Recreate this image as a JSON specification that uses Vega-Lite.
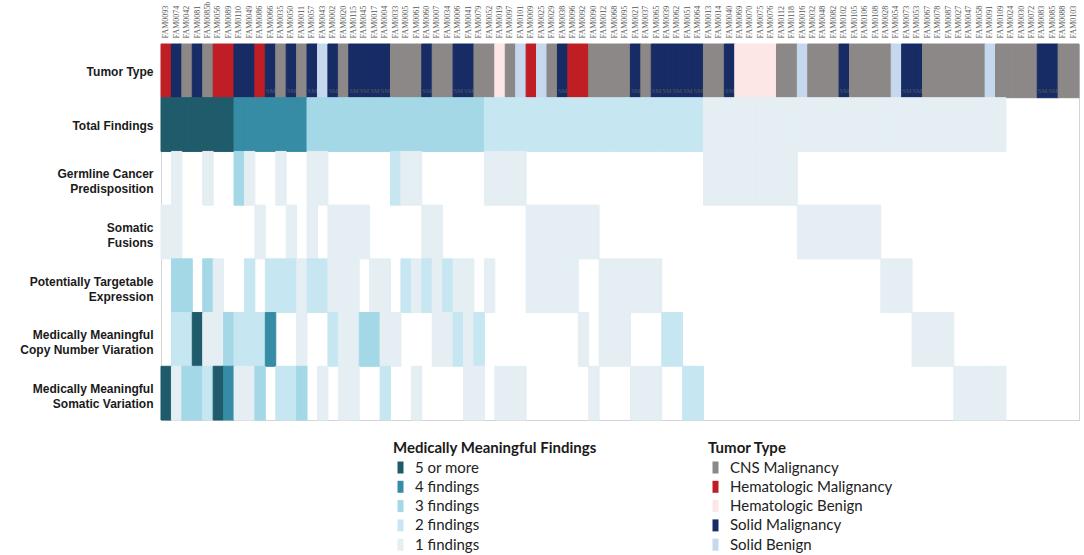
{
"$schema": "https://vega.github.io/schema/vega-lite/v6.json",
"width": 918, "height": 376,
"autosize": {"type": "none"},
"padding": {"left": 161, "top": 44, "right": 5, "bottom": 135},
"background": "white",
"config": {
  "view": {"stroke": "#d4d4d4", "strokeWidth": 1},
  "axis": {"domain": false, "ticks": false, "grid": false, "title": null},
  "legend": {"padding": 0, "titleFont": "Lato", "titleFontSize": 15, "titleFontWeight": "bold", "titleColor": "#1a1a1a", "titlePadding": 4, "titleLimit": 500, "labelLimit": 400, "labelFont": "Lato", "labelFontSize": 15, "labelColor": "#222", "labelOffset": 7, "rowPadding": 3.3, "symbolType": "M-0.5,-1L0.5,-1L0.5,1L-0.5,1Z", "symbolSize": 144, "symbolStrokeWidth": 0}
},
"datasets": {
"tumor": [
{"p":"FAM0093","r":"TT","t":"Hematologic Malignancy","s":0},
{"p":"FAM0074","r":"TT","t":"Solid Malignancy","s":0},
{"p":"FAM0042","r":"TT","t":"CNS Malignancy","s":0},
{"p":"FAM0081","r":"TT","t":"Solid Malignancy","s":0},
{"p":"FAM0085b","r":"TT","t":"CNS Malignancy","s":0},
{"p":"FAM0056","r":"TT","t":"Hematologic Malignancy","s":0},
{"p":"FAM0089","r":"TT","t":"Hematologic Malignancy","s":0},
{"p":"FAM0110","r":"TT","t":"Solid Malignancy","s":0},
{"p":"FAM0049","r":"TT","t":"Solid Malignancy","s":0},
{"p":"FAM0086","r":"TT","t":"Hematologic Malignancy","s":0},
{"p":"FAM0066","r":"TT","t":"Solid Malignancy","s":1},
{"p":"FAM0035","r":"TT","t":"CNS Malignancy","s":0},
{"p":"FAM0050","r":"TT","t":"Solid Malignancy","s":1},
{"p":"FAM0011","r":"TT","t":"CNS Malignancy","s":0},
{"p":"FAM0057","r":"TT","t":"Solid Malignancy","s":1},
{"p":"FAM0043","r":"TT","t":"Solid Benign","s":0},
{"p":"FAM0002","r":"TT","t":"Solid Malignancy","s":1},
{"p":"FAM0020","r":"TT","t":"CNS Malignancy","s":0},
{"p":"FAM0115","r":"TT","t":"Solid Malignancy","s":1},
{"p":"FAM0045","r":"TT","t":"Solid Malignancy","s":1},
{"p":"FAM0017","r":"TT","t":"Solid Malignancy","s":1},
{"p":"FAM0004","r":"TT","t":"Solid Malignancy","s":1},
{"p":"FAM0033","r":"TT","t":"CNS Malignancy","s":0},
{"p":"FAM0005","r":"TT","t":"CNS Malignancy","s":0},
{"p":"FAM0061","r":"TT","t":"CNS Malignancy","s":0},
{"p":"FAM0060","r":"TT","t":"Solid Malignancy","s":1},
{"p":"FAM0007","r":"TT","t":"CNS Malignancy","s":0},
{"p":"FAM0034","r":"TT","t":"CNS Malignancy","s":0},
{"p":"FAM0006","r":"TT","t":"Solid Malignancy","s":1},
{"p":"FAM0041","r":"TT","t":"Solid Malignancy","s":1},
{"p":"FAM0079","r":"TT","t":"CNS Malignancy","s":0},
{"p":"FAM0052","r":"TT","t":"CNS Malignancy","s":0},
{"p":"FAM0019","r":"TT","t":"Hematologic Benign","s":0},
{"p":"FAM0097","r":"TT","t":"CNS Malignancy","s":0},
{"p":"FAM0101","r":"TT","t":"Solid Benign","s":0},
{"p":"FAM0009","r":"TT","t":"Hematologic Malignancy","s":0},
{"p":"FAM0025","r":"TT","t":"Solid Benign","s":0},
{"p":"FAM0029","r":"TT","t":"CNS Malignancy","s":0},
{"p":"FAM0038","r":"TT","t":"Solid Malignancy","s":1},
{"p":"FAM0096","r":"TT","t":"Hematologic Malignancy","s":0},
{"p":"FAM0092","r":"TT","t":"Hematologic Malignancy","s":0},
{"p":"FAM0090","r":"TT","t":"CNS Malignancy","s":0},
{"p":"FAM0012","r":"TT","t":"CNS Malignancy","s":0},
{"p":"FAM0068","r":"TT","t":"CNS Malignancy","s":0},
{"p":"FAM0095","r":"TT","t":"CNS Malignancy","s":0},
{"p":"FAM0021","r":"TT","t":"Solid Malignancy","s":1},
{"p":"FAM0037","r":"TT","t":"CNS Malignancy","s":0},
{"p":"FAM0065","r":"TT","t":"Solid Malignancy","s":1},
{"p":"FAM0039","r":"TT","t":"Solid Malignancy","s":1},
{"p":"FAM0062","r":"TT","t":"Solid Malignancy","s":1},
{"p":"FAM0051","r":"TT","t":"Solid Malignancy","s":1},
{"p":"FAM0064","r":"TT","t":"Solid Malignancy","s":1},
{"p":"FAM0013","r":"TT","t":"CNS Malignancy","s":0},
{"p":"FAM0014","r":"TT","t":"CNS Malignancy","s":0},
{"p":"FAM0040","r":"TT","t":"Solid Malignancy","s":1},
{"p":"FAM0069","r":"TT","t":"Hematologic Benign","s":0},
{"p":"FAM0070","r":"TT","t":"Hematologic Benign","s":0},
{"p":"FAM0075","r":"TT","t":"Hematologic Benign","s":0},
{"p":"FAM0076","r":"TT","t":"Hematologic Benign","s":0},
{"p":"FAM0112","r":"TT","t":"CNS Malignancy","s":0},
{"p":"FAM0118","r":"TT","t":"CNS Malignancy","s":0},
{"p":"FAM0016","r":"TT","t":"Solid Benign","s":0},
{"p":"FAM0032","r":"TT","t":"CNS Malignancy","s":0},
{"p":"FAM0048","r":"TT","t":"CNS Malignancy","s":0},
{"p":"FAM0082","r":"TT","t":"CNS Malignancy","s":0},
{"p":"FAM0102","r":"TT","t":"Solid Malignancy","s":1},
{"p":"FAM0105","r":"TT","t":"CNS Malignancy","s":0},
{"p":"FAM0106","r":"TT","t":"CNS Malignancy","s":0},
{"p":"FAM0108","r":"TT","t":"CNS Malignancy","s":0},
{"p":"FAM0028","r":"TT","t":"CNS Malignancy","s":0},
{"p":"FAM0054","r":"TT","t":"Solid Benign","s":0},
{"p":"FAM0073","r":"TT","t":"Solid Malignancy","s":1},
{"p":"FAM0053","r":"TT","t":"Solid Malignancy","s":1},
{"p":"FAM0067","r":"TT","t":"CNS Malignancy","s":0},
{"p":"FAM0078","r":"TT","t":"CNS Malignancy","s":0},
{"p":"FAM0087","r":"TT","t":"CNS Malignancy","s":0},
{"p":"FAM0027","r":"TT","t":"CNS Malignancy","s":0},
{"p":"FAM0047","r":"TT","t":"CNS Malignancy","s":0},
{"p":"FAM0058","r":"TT","t":"CNS Malignancy","s":0},
{"p":"FAM0091","r":"TT","t":"Solid Benign","s":0},
{"p":"FAM0109","r":"TT","t":"CNS Malignancy","s":0},
{"p":"FAM0024","r":"TT","t":"CNS Malignancy","s":0},
{"p":"FAM0030","r":"TT","t":"CNS Malignancy","s":0},
{"p":"FAM0072","r":"TT","t":"CNS Malignancy","s":0},
{"p":"FAM0083","r":"TT","t":"Solid Malignancy","s":1},
{"p":"FAM0085","r":"TT","t":"Solid Malignancy","s":1},
{"p":"FAM0088","r":"TT","t":"CNS Malignancy","s":0},
{"p":"FAM0103","r":"TT","t":"CNS Malignancy","s":0}
],
"find": [
{"p":"FAM0093","r":"T","n":5},{"p":"FAM0074","r":"T","n":5},{"p":"FAM0042","r":"T","n":5},{"p":"FAM0081","r":"T","n":5},{"p":"FAM0085b","r":"T","n":5},{"p":"FAM0056","r":"T","n":5},{"p":"FAM0089","r":"T","n":5},
{"p":"FAM0110","r":"T","n":4},{"p":"FAM0049","r":"T","n":4},{"p":"FAM0086","r":"T","n":4},{"p":"FAM0066","r":"T","n":4},{"p":"FAM0035","r":"T","n":4},{"p":"FAM0050","r":"T","n":4},{"p":"FAM0011","r":"T","n":4},
{"p":"FAM0057","r":"T","n":3},{"p":"FAM0043","r":"T","n":3},{"p":"FAM0002","r":"T","n":3},{"p":"FAM0020","r":"T","n":3},{"p":"FAM0115","r":"T","n":3},{"p":"FAM0045","r":"T","n":3},{"p":"FAM0017","r":"T","n":3},{"p":"FAM0004","r":"T","n":3},{"p":"FAM0033","r":"T","n":3},{"p":"FAM0005","r":"T","n":3},{"p":"FAM0061","r":"T","n":3},{"p":"FAM0060","r":"T","n":3},{"p":"FAM0007","r":"T","n":3},{"p":"FAM0034","r":"T","n":3},{"p":"FAM0006","r":"T","n":3},{"p":"FAM0041","r":"T","n":3},{"p":"FAM0079","r":"T","n":3},
{"p":"FAM0052","r":"T","n":2},{"p":"FAM0019","r":"T","n":2},{"p":"FAM0097","r":"T","n":2},{"p":"FAM0101","r":"T","n":2},{"p":"FAM0009","r":"T","n":2},{"p":"FAM0025","r":"T","n":2},{"p":"FAM0029","r":"T","n":2},{"p":"FAM0038","r":"T","n":2},{"p":"FAM0096","r":"T","n":2},{"p":"FAM0092","r":"T","n":2},{"p":"FAM0090","r":"T","n":2},{"p":"FAM0012","r":"T","n":2},{"p":"FAM0068","r":"T","n":2},{"p":"FAM0095","r":"T","n":2},{"p":"FAM0021","r":"T","n":2},{"p":"FAM0037","r":"T","n":2},{"p":"FAM0065","r":"T","n":2},{"p":"FAM0039","r":"T","n":2},{"p":"FAM0062","r":"T","n":2},{"p":"FAM0051","r":"T","n":2},{"p":"FAM0064","r":"T","n":2},
{"p":"FAM0013","r":"T","n":1},{"p":"FAM0014","r":"T","n":1},{"p":"FAM0040","r":"T","n":1},{"p":"FAM0069","r":"T","n":1},{"p":"FAM0070","r":"T","n":1},{"p":"FAM0075","r":"T","n":1},{"p":"FAM0076","r":"T","n":1},{"p":"FAM0112","r":"T","n":1},{"p":"FAM0118","r":"T","n":1},{"p":"FAM0016","r":"T","n":1},{"p":"FAM0032","r":"T","n":1},{"p":"FAM0048","r":"T","n":1},{"p":"FAM0082","r":"T","n":1},{"p":"FAM0102","r":"T","n":1},{"p":"FAM0105","r":"T","n":1},{"p":"FAM0106","r":"T","n":1},{"p":"FAM0108","r":"T","n":1},{"p":"FAM0028","r":"T","n":1},{"p":"FAM0054","r":"T","n":1},{"p":"FAM0073","r":"T","n":1},{"p":"FAM0053","r":"T","n":1},{"p":"FAM0067","r":"T","n":1},{"p":"FAM0078","r":"T","n":1},{"p":"FAM0087","r":"T","n":1},{"p":"FAM0027","r":"T","n":1},{"p":"FAM0047","r":"T","n":1},{"p":"FAM0058","r":"T","n":1},{"p":"FAM0091","r":"T","n":1},{"p":"FAM0109","r":"T","n":1},

{"p":"FAM0074","r":"G","n":1},{"p":"FAM0085b","r":"G","n":1},{"p":"FAM0110","r":"G","n":3},{"p":"FAM0049","r":"G","n":1},{"p":"FAM0035","r":"G","n":1},{"p":"FAM0057","r":"G","n":1},{"p":"FAM0043","r":"G","n":1},{"p":"FAM0033","r":"G","n":2},{"p":"FAM0005","r":"G","n":1},{"p":"FAM0061","r":"G","n":1},{"p":"FAM0052","r":"G","n":1},{"p":"FAM0019","r":"G","n":1},{"p":"FAM0097","r":"G","n":1},{"p":"FAM0101","r":"G","n":1},
{"p":"FAM0013","r":"G","n":1},{"p":"FAM0014","r":"G","n":1},{"p":"FAM0040","r":"G","n":1},{"p":"FAM0069","r":"G","n":1},{"p":"FAM0070","r":"G","n":1},{"p":"FAM0075","r":"G","n":1},{"p":"FAM0076","r":"G","n":1},{"p":"FAM0112","r":"G","n":1},{"p":"FAM0118","r":"G","n":1},

{"p":"FAM0093","r":"F","n":1},{"p":"FAM0074","r":"F","n":1},{"p":"FAM0086","r":"F","n":1},{"p":"FAM0050","r":"F","n":1},{"p":"FAM0057","r":"F","n":1},{"p":"FAM0002","r":"F","n":1},{"p":"FAM0020","r":"F","n":1},{"p":"FAM0115","r":"F","n":1},{"p":"FAM0045","r":"F","n":1},{"p":"FAM0060","r":"F","n":1},{"p":"FAM0007","r":"F","n":1},
{"p":"FAM0009","r":"F","n":1},{"p":"FAM0025","r":"F","n":1},{"p":"FAM0029","r":"F","n":1},{"p":"FAM0038","r":"F","n":1},{"p":"FAM0096","r":"F","n":1},{"p":"FAM0092","r":"F","n":1},{"p":"FAM0090","r":"F","n":1},
{"p":"FAM0016","r":"F","n":1},{"p":"FAM0032","r":"F","n":1},{"p":"FAM0048","r":"F","n":1},{"p":"FAM0082","r":"F","n":1},{"p":"FAM0102","r":"F","n":1},{"p":"FAM0105","r":"F","n":1},{"p":"FAM0106","r":"F","n":1},{"p":"FAM0108","r":"F","n":1},

{"p":"FAM0074","r":"P","n":3},{"p":"FAM0042","r":"P","n":3},{"p":"FAM0085b","r":"P","n":3},{"p":"FAM0056","r":"P","n":1},{"p":"FAM0049","r":"P","n":2},{"p":"FAM0066","r":"P","n":2},{"p":"FAM0035","r":"P","n":2},{"p":"FAM0050","r":"P","n":2},{"p":"FAM0011","r":"P","n":1},{"p":"FAM0057","r":"P","n":2},{"p":"FAM0043","r":"P","n":2},{"p":"FAM0002","r":"P","n":1},{"p":"FAM0020","r":"P","n":1},{"p":"FAM0115","r":"P","n":1},{"p":"FAM0017","r":"P","n":1},{"p":"FAM0004","r":"P","n":1},{"p":"FAM0005","r":"P","n":2},{"p":"FAM0061","r":"P","n":1},{"p":"FAM0060","r":"P","n":2},{"p":"FAM0007","r":"P","n":1},{"p":"FAM0034","r":"P","n":2},{"p":"FAM0006","r":"P","n":1},{"p":"FAM0041","r":"P","n":1},{"p":"FAM0052","r":"P","n":1},
{"p":"FAM0009","r":"P","n":1},{"p":"FAM0025","r":"P","n":1},{"p":"FAM0029","r":"P","n":1},{"p":"FAM0038","r":"P","n":1},{"p":"FAM0096","r":"P","n":1},
{"p":"FAM0012","r":"P","n":1},{"p":"FAM0068","r":"P","n":1},{"p":"FAM0095","r":"P","n":1},{"p":"FAM0021","r":"P","n":1},{"p":"FAM0037","r":"P","n":1},{"p":"FAM0065","r":"P","n":1},
{"p":"FAM0028","r":"P","n":1},{"p":"FAM0054","r":"P","n":1},{"p":"FAM0073","r":"P","n":1},

{"p":"FAM0074","r":"C","n":2},{"p":"FAM0042","r":"C","n":2},{"p":"FAM0081","r":"C","n":5},{"p":"FAM0085b","r":"C","n":1},{"p":"FAM0056","r":"C","n":1},{"p":"FAM0089","r":"C","n":3},{"p":"FAM0110","r":"C","n":2},{"p":"FAM0049","r":"C","n":2},{"p":"FAM0086","r":"C","n":2},{"p":"FAM0066","r":"C","n":4},{"p":"FAM0011","r":"C","n":1},{"p":"FAM0002","r":"C","n":2},{"p":"FAM0020","r":"C","n":1},{"p":"FAM0115","r":"C","n":1},{"p":"FAM0045","r":"C","n":3},{"p":"FAM0017","r":"C","n":3},{"p":"FAM0004","r":"C","n":1},{"p":"FAM0033","r":"C","n":1},{"p":"FAM0007","r":"C","n":1},{"p":"FAM0034","r":"C","n":1},{"p":"FAM0006","r":"C","n":2},{"p":"FAM0041","r":"C","n":1},{"p":"FAM0079","r":"C","n":2},
{"p":"FAM0092","r":"C","n":1},{"p":"FAM0012","r":"C","n":1},{"p":"FAM0068","r":"C","n":1},{"p":"FAM0095","r":"C","n":1},{"p":"FAM0039","r":"C","n":2},{"p":"FAM0062","r":"C","n":2},
{"p":"FAM0053","r":"C","n":1},{"p":"FAM0067","r":"C","n":1},{"p":"FAM0078","r":"C","n":1},{"p":"FAM0087","r":"C","n":1},

{"p":"FAM0093","r":"S","n":5},{"p":"FAM0074","r":"S","n":1},{"p":"FAM0042","r":"S","n":3},{"p":"FAM0081","r":"S","n":3},{"p":"FAM0085b","r":"S","n":2},{"p":"FAM0056","r":"S","n":5},{"p":"FAM0089","r":"S","n":4},{"p":"FAM0110","r":"S","n":1},{"p":"FAM0049","r":"S","n":1},{"p":"FAM0086","r":"S","n":3},{"p":"FAM0035","r":"S","n":2},{"p":"FAM0050","r":"S","n":2},{"p":"FAM0011","r":"S","n":3},{"p":"FAM0043","r":"S","n":1},{"p":"FAM0020","r":"S","n":1},{"p":"FAM0115","r":"S","n":1},{"p":"FAM0004","r":"S","n":2},{"p":"FAM0061","r":"S","n":1},{"p":"FAM0041","r":"S","n":1},{"p":"FAM0079","r":"S","n":1},
{"p":"FAM0019","r":"S","n":1},{"p":"FAM0097","r":"S","n":1},{"p":"FAM0101","r":"S","n":1},{"p":"FAM0090","r":"S","n":1},{"p":"FAM0021","r":"S","n":1},{"p":"FAM0037","r":"S","n":1},{"p":"FAM0065","r":"S","n":1},{"p":"FAM0051","r":"S","n":2},{"p":"FAM0064","r":"S","n":2},
{"p":"FAM0027","r":"S","n":1},{"p":"FAM0047","r":"S","n":1},{"p":"FAM0058","r":"S","n":1},{"p":"FAM0091","r":"S","n":1},{"p":"FAM0109","r":"S","n":1}
]
},
"encoding": {
  "x": {"field": "p", "type": "nominal",
    "scale": {"domain": ["FAM0093","FAM0074","FAM0042","FAM0081","FAM0085b","FAM0056","FAM0089","FAM0110","FAM0049","FAM0086","FAM0066","FAM0035","FAM0050","FAM0011","FAM0057","FAM0043","FAM0002","FAM0020","FAM0115","FAM0045","FAM0017","FAM0004","FAM0033","FAM0005","FAM0061","FAM0060","FAM0007","FAM0034","FAM0006","FAM0041","FAM0079","FAM0052","FAM0019","FAM0097","FAM0101","FAM0009","FAM0025","FAM0029","FAM0038","FAM0096","FAM0092","FAM0090","FAM0012","FAM0068","FAM0095","FAM0021","FAM0037","FAM0065","FAM0039","FAM0062","FAM0051","FAM0064","FAM0013","FAM0014","FAM0040","FAM0069","FAM0070","FAM0075","FAM0076","FAM0112","FAM0118","FAM0016","FAM0032","FAM0048","FAM0082","FAM0102","FAM0105","FAM0106","FAM0108","FAM0028","FAM0054","FAM0073","FAM0053","FAM0067","FAM0078","FAM0087","FAM0027","FAM0047","FAM0058","FAM0091","FAM0109","FAM0024","FAM0030","FAM0072","FAM0083","FAM0085","FAM0088","FAM0103"], "paddingInner": 0, "paddingOuter": 0},
    "axis": {"orient": "top", "labelAngle": -90, "labelFont": "Liberation Serif", "labelFontSize": 8, "labelColor": "#555", "labelPadding": 6, "title": null}},
  "y": {"field": "r", "type": "nominal",
    "scale": {"domain": ["TT","T","G","F","P","C","S"], "paddingInner": 0, "paddingOuter": 0},
    "axis": {"labelExpr": "split(datum.value=='TT'?'Tumor Type\u00a0\u00a0':datum.value=='T'?'Total Findings\u00a0\u00a0':datum.value=='G'?'Germline Cancer\u00a0\u00a0|Predisposition\u00a0':datum.value=='F'?'Somatic|Fusions':datum.value=='P'?'Potentially Targetable\u00a0\u00a0\u00a0\u00a0|Expression':datum.value=='C'?'Medically Meaningful\u00a0\u00a0\u00a0\u00a0|Copy Number Viaration\u00a0\u00a0\u00a0\u00a0':'Medically Meaningful\u00a0\u00a0\u00a0\u00a0|Somatic Variation\u00a0\u00a0\u00a0','|')",
      "labelOffset": {"condition": {"test": "datum.value == 'TT' || datum.value == 'T'", "value": 1}, "value": -4},
      "labelFont": "Liberation Sans", "labelFontWeight": "bold", "labelFontSize": 12, "labelColor": "#1a1a1a", "labelPadding": 8, "labelLineHeight": 15, "title": null}}
},
"layer": [
  {"data": {"name": "tumor"}, "mark": {"type": "rect", "strokeWidth": 1},
   "encoding": {
     "color": {"field": "t", "type": "nominal",
       "scale": {"domain": ["CNS Malignancy","Hematologic Malignancy","Hematologic Benign","Solid Malignancy","Solid Benign"], "range": ["#8b8887","#be1e24","#fce6e6","#172b65","#c5d8ed"]},
       "legend": {"title": "Tumor Type", "orient": "none", "legendX": 547, "legendY": 397}},
     "stroke": {"field": "t", "type": "nominal",
       "scale": {"domain": ["CNS Malignancy","Hematologic Malignancy","Hematologic Benign","Solid Malignancy","Solid Benign"], "range": ["#8b8887","#be1e24","#fce6e6","#172b65","#c5d8ed"]},
       "legend": null}}},
  {"data": {"name": "tumor"}, "transform": [{"filter": "datum.s == 1"}],
   "mark": {"type": "text", "text": "SM", "dy": 20, "font": "Liberation Serif", "fontSize": 6.5, "color": "#5a5a5a"}},
  {"data": {"name": "find"}, "mark": {"type": "rect", "strokeWidth": 1},
   "encoding": {
     "color": {"field": "n", "type": "ordinal",
       "scale": {"domain": [5,4,3,2,1], "range": ["#1f5b6a","#368ca4","#a4d8e7","#c6e7f1","#e4eef3"]},
       "legend": {"title": "Medically Meaningful Findings", "orient": "none", "legendX": 232, "legendY": 397, "labelExpr": "datum.value == 5 ? '5 or more' : datum.value + ' findings'"}},
     "stroke": {"field": "n", "type": "ordinal",
       "scale": {"domain": [5,4,3,2,1], "range": ["#1f5b6a","#368ca4","#a4d8e7","#c6e7f1","#e4eef3"]},
       "legend": null}}}
],
"resolve": {"scale": {"color": "independent", "stroke": "independent"}}
}
